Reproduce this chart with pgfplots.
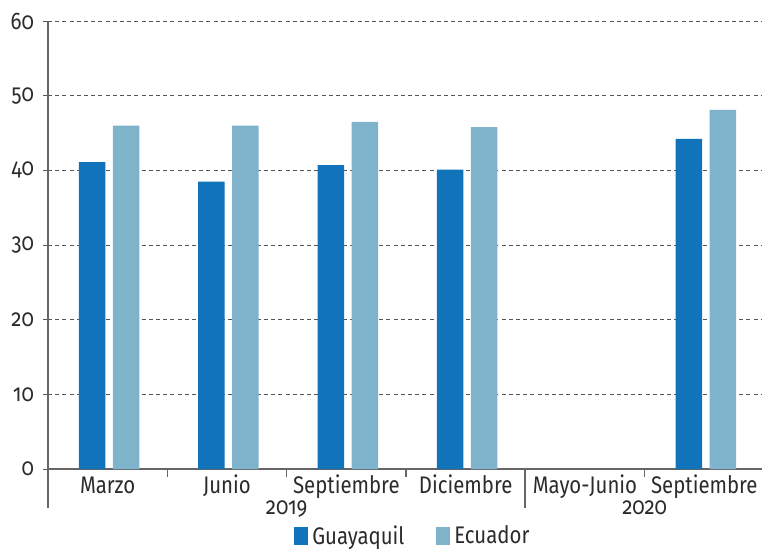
\documentclass[border=0pt]{standalone}
\usepackage{pgfplots}
\pgfplotsset{compat=1.18}
\usepackage{fontspec}
\setmainfont{Fira Sans}[FakeStretch=0.85,Numbers=OldStyle]
\definecolor{guay}{HTML}{1173BA}
\definecolor{ecu}{HTML}{7FB3CC}
\definecolor{txt}{HTML}{2B2B2B}
\definecolor{axc}{HTML}{666666}
\definecolor{gridc}{HTML}{555555}
\begin{document}
\begin{tikzpicture}
\useasboundingbox (-24pt,-39.5pt) rectangle (357pt,234.5pt);
\begin{axis}[
  scale only axis, width=358pt, height=224pt,
  xmin=-0.5, xmax=5.5, ymin=0, ymax=60,
  axis x line*=bottom, axis y line*=left,
  axis line style={axc, line width=0.9pt},
  font=\fontsize{12}{14}\selectfont\color{txt},
  /pgf/number format/assume math mode=true,
  ytick={0,10,...,60},
  ymajorgrids, grid style={gridc, dash pattern=on 2pt off 1.6pt, line width=0.5pt},
  tick align=outside,
  major tick length=2.5pt,
  ytick style={gridc, line width=0.5pt},
  yticklabel style={xshift=-1pt},
  xtick={0,...,5},
  xticklabels={Marzo,Junio,Septiembre,Diciembre,Mayo-Junio,Septiembre},
  major x tick style={draw=none},
  minor xtick={0.5,1.5,2.5,4.5},
  minor tick length=4pt,
  minor x tick style={axc, line width=0.7pt},
  xticklabel style={anchor=base, yshift=-9.5pt},
  clip=false,
  legend style={at={(0.511,-0.150)}, anchor=center, draw=none, fill=none,
    legend columns=2, font=\fontsize{12}{14}\selectfont\color{txt},
    inner sep=0pt,
    /tikz/every even column/.append style={column sep=14pt}},
  legend image code/.code={\fill[#1] (0pt,-4.5pt) rectangle (7pt,4.5pt);},
]
\addplot[ybar, bar width=13.25pt, bar shift=-7.75pt, fill=guay, draw=none]
  coordinates {(0,41.1) (1,38.5) (2,40.7) (3,40.1) (5,44.2)};
\addlegendentry{Guayaquil}
\addplot[ybar, bar width=13.25pt, bar shift=9.25pt, fill=ecu, draw=none]
  coordinates {(0,46.0) (1,46.0) (2,46.5) (3,45.8) (5,48.1)};
\addlegendentry{Ecuador}
\draw[axc, line width=0.9pt] (axis cs:-0.5,0) -- ++(0pt,-19.5pt);
\draw[axc, line width=0.9pt] (axis cs:3.5,0) -- ++(0pt,-19.5pt);
\node[anchor=base, font=\fontsize{12}{14}\selectfont\color{txt}] at ([yshift=-22.5pt]axis cs:1.5,0) {2019};
\node[anchor=base, font=\fontsize{12}{14}\selectfont\color{txt}] at ([yshift=-22.5pt]axis cs:4.5,0) {2020};
\end{axis}
\end{tikzpicture}
\end{document}
